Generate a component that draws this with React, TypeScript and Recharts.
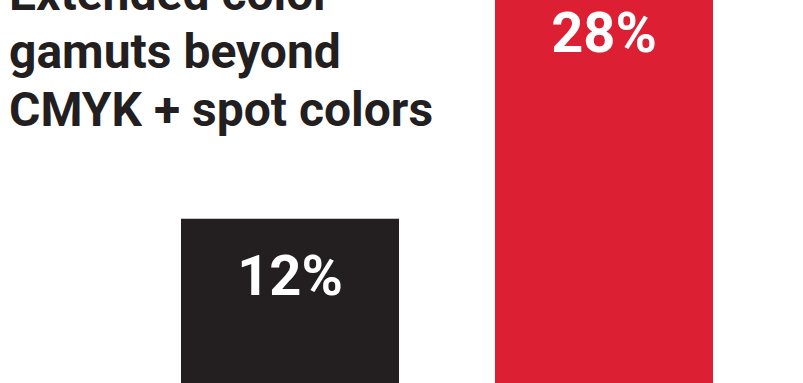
import React from 'react';
import { BarChart, Bar, XAxis, YAxis, Cell, LabelList } from 'recharts';

const categories = ['CMYK', 'Extended gamut'];
const shares = [12, 28];
const barColors = ['#231F20', '#DC1F32'];

const data = categories.map((name, i) => ({ name, value: shares[i] }));

const FONT = 'Roboto, "Noto Sans", sans-serif';

const renderLabel = (props: any) => {
  const { x, y, width, value } = props;
  return (
    <text
      x={x + width / 2}
      y={y + 76}
      textAnchor="middle"
      fill="#ffffff"
      fontFamily={FONT}
      fontWeight={700}
      fontSize={56}
    >
      {value}%
    </text>
  );
};

export default function App() {
  return (
    <div
      style={{
        position: 'fixed',
        left: 0,
        top: 0,
        width: 803,
        height: 383,
        overflow: 'hidden',
        background: '#ffffff',
      }}
    >
      <div style={{ position: 'absolute', left: 0, top: -24 }}>
        <BarChart
          width={803}
          height={425}
          data={data}
          margin={{ top: 0, right: 42, bottom: 0, left: 133 }}
          barCategoryGap={0}
        >
          <XAxis dataKey="name" hide />
          <YAxis hide domain={[0, 28]} />
          <Bar dataKey="value" barSize={218} isAnimationActive={false}>
            {data.map((d, i) => (
              <Cell key={d.name} fill={barColors[i]} />
            ))}
            <LabelList dataKey="value" content={renderLabel} />
          </Bar>
        </BarChart>
      </div>
      <div
        style={{
          position: 'absolute',
          left: 9,
          top: -35,
          fontFamily: FONT,
          fontWeight: 700,
          fontSize: 48,
          lineHeight: '58px',
          color: '#231F20',
          whiteSpace: 'nowrap',
        }}
      >
        Extended color
        <br />
        gamuts beyond
        <br />
        CMYK + spot colors
      </div>
    </div>
  );
}
